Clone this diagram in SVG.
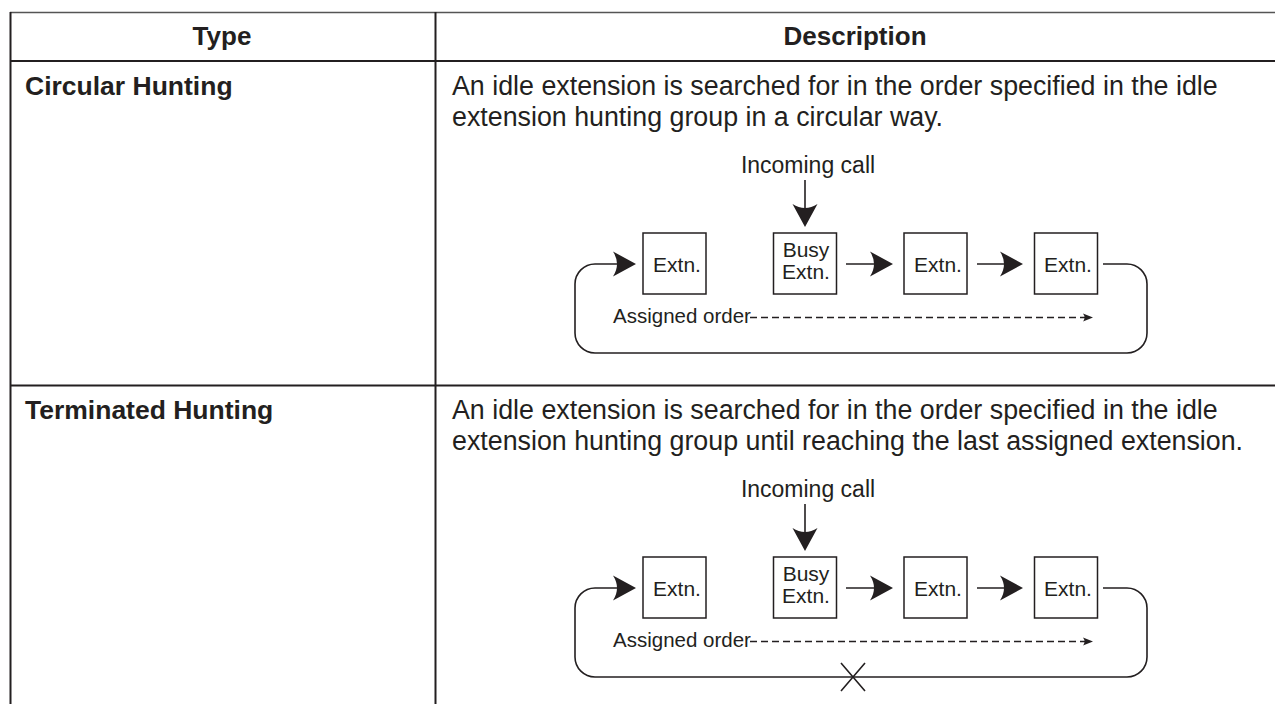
<svg xmlns="http://www.w3.org/2000/svg" width="1275" height="704" viewBox="0 0 1275 704">
  <style>
    .tbl { stroke: #231f20; stroke-width: 2; fill: none; }
    .tbl-top { stroke: #555; stroke-width: 1.5; fill: none; }
    .hdr { font-family: "Liberation Sans", Arial, sans-serif; font-weight: bold; font-size: 26px; fill: #231f20; }
    .typ { font-family: "Liberation Sans", Arial, sans-serif; font-weight: bold; font-size: 26.5px; fill: #231f20; }
    .body { font-family: "Liberation Sans", Arial, sans-serif; font-size: 26.8px; fill: #231f20; }
    .lbl { font-family: "Liberation Sans", Arial, sans-serif; font-size: 23px; fill: #231f20; }
    .box-t { font-family: "Liberation Sans", Arial, sans-serif; font-size: 21px; fill: #231f20; text-anchor: middle; }
    .ord { font-family: "Liberation Sans", Arial, sans-serif; font-size: 20.5px; fill: #231f20; }
    .box { fill: #fff; stroke: #231f20; stroke-width: 1.5; }
    .ln { fill: none; stroke: #231f20; stroke-width: 1.6; }
    .dash { fill: none; stroke: #231f20; stroke-width: 1.3; stroke-dasharray: 7 4; }
  </style>
  <defs>
    <marker id="big" markerUnits="userSpaceOnUse" viewBox="-24 -13 25 26" markerWidth="25" markerHeight="26" refX="-8" refY="0" orient="auto">
      <path d="M0,0 L-23,-12.5 Q-15,0 -23,12.5 Z" fill="#231f20"/>
    </marker>
    <marker id="small" markerUnits="userSpaceOnUse" viewBox="-11 -5 12 10" markerWidth="12" markerHeight="10" refX="-4" refY="0" orient="auto">
      <path d="M0,0 L-10,-4 Q-7,0 -10,4 Z" fill="#231f20"/>
    </marker>
  </defs>

  <g id="table">
    <path class="tbl-top" d="M10,12.5 H1275"/>
    <path class="tbl" d="M10.5,12 V704"/>
    <path class="tbl" d="M10,61 H1275"/>
    <path class="tbl" d="M435.5,12 V704"/>
    <path class="tbl" d="M10,385.5 H1275"/>
  </g>

  <g id="header">
    <text class="hdr" x="222" y="45" text-anchor="middle">Type</text>
    <text class="hdr" x="855" y="45" text-anchor="middle">Description</text>
  </g>

  <g id="row1">
    <text class="typ" x="25" y="94.5">Circular Hunting</text>
    <text class="body" x="452" y="95">An idle extension is searched for in the order specified in the idle</text>
    <text class="body" x="452" y="126">extension hunting group in a circular way.</text>
  </g>

  <g id="row2">
    <text class="typ" x="25" y="418.5">Terminated Hunting</text>
    <text class="body" x="452" y="419">An idle extension is searched for in the order specified in the idle</text>
    <text class="body" x="452" y="450">extension hunting group until reaching the last assigned extension.</text>
  </g>

  <!-- Diagram 1 -->
  <g id="d1-incoming"><text class="lbl" x="808" y="173" text-anchor="middle">Incoming call</text></g>
  <g id="d1-ext1"><rect class="box" x="643" y="233" width="63" height="61"/><text class="box-t" x="677" y="271.5">Extn.</text></g>
  <g id="d1-busy"><rect class="box" x="773.5" y="233" width="63" height="61"/><text class="box-t" x="806" y="257">Busy</text><text class="box-t" x="806" y="278.5">Extn.</text></g>
  <g id="d1-ext3"><rect class="box" x="904" y="233" width="63" height="61"/><text class="box-t" x="938" y="271.5">Extn.</text></g>
  <g id="d1-ext4"><rect class="box" x="1034.5" y="233" width="63" height="61"/><text class="box-t" x="1068" y="271.5">Extn.</text></g>
  <g id="d1-order"><text class="ord" x="613" y="323">Assigned order</text></g>
  <g id="d1-connectors">
    <path class="ln" d="M805,180 V219" marker-end="url(#big)"/>
    <path class="ln" d="M846,264 H885" marker-end="url(#big)"/>
    <path class="ln" d="M977,264 H1015" marker-end="url(#big)"/>
    <path class="ln" d="M1103,264 H1127 A20,20 0 0 1 1147,284 V333 A20,20 0 0 1 1127,353 H595 A20,20 0 0 1 575,333 V284 A20,20 0 0 1 595,264 H628" marker-end="url(#big)"/>
    <path class="dash" d="M750,317.5 H1089" marker-end="url(#small)"/>
  </g>

  <!-- Diagram 2 -->
  <g id="d2-incoming"><text class="lbl" x="808" y="497" text-anchor="middle">Incoming call</text></g>
  <g id="d2-ext1"><rect class="box" x="643" y="557" width="63" height="61"/><text class="box-t" x="677" y="595.5">Extn.</text></g>
  <g id="d2-busy"><rect class="box" x="773.5" y="557" width="63" height="61"/><text class="box-t" x="806" y="581">Busy</text><text class="box-t" x="806" y="602.5">Extn.</text></g>
  <g id="d2-ext3"><rect class="box" x="904" y="557" width="63" height="61"/><text class="box-t" x="938" y="595.5">Extn.</text></g>
  <g id="d2-ext4"><rect class="box" x="1034.5" y="557" width="63" height="61"/><text class="box-t" x="1068" y="595.5">Extn.</text></g>
  <g id="d2-order"><text class="ord" x="613" y="647">Assigned order</text></g>
  <g id="d2-connectors">
    <path class="ln" d="M805,504 V543" marker-end="url(#big)"/>
    <path class="ln" d="M846,588 H885" marker-end="url(#big)"/>
    <path class="ln" d="M977,588 H1015" marker-end="url(#big)"/>
    <path class="ln" d="M1103,588 H1127 A20,20 0 0 1 1147,608 V657 A20,20 0 0 1 1127,677 H595 A20,20 0 0 1 575,657 V608 A20,20 0 0 1 595,588 H628" marker-end="url(#big)"/>
    <path class="dash" d="M750,641.5 H1089" marker-end="url(#small)"/>
    <path class="ln" d="M841,663 L865,691 M865,663 L841,691"/>
  </g>
</svg>
